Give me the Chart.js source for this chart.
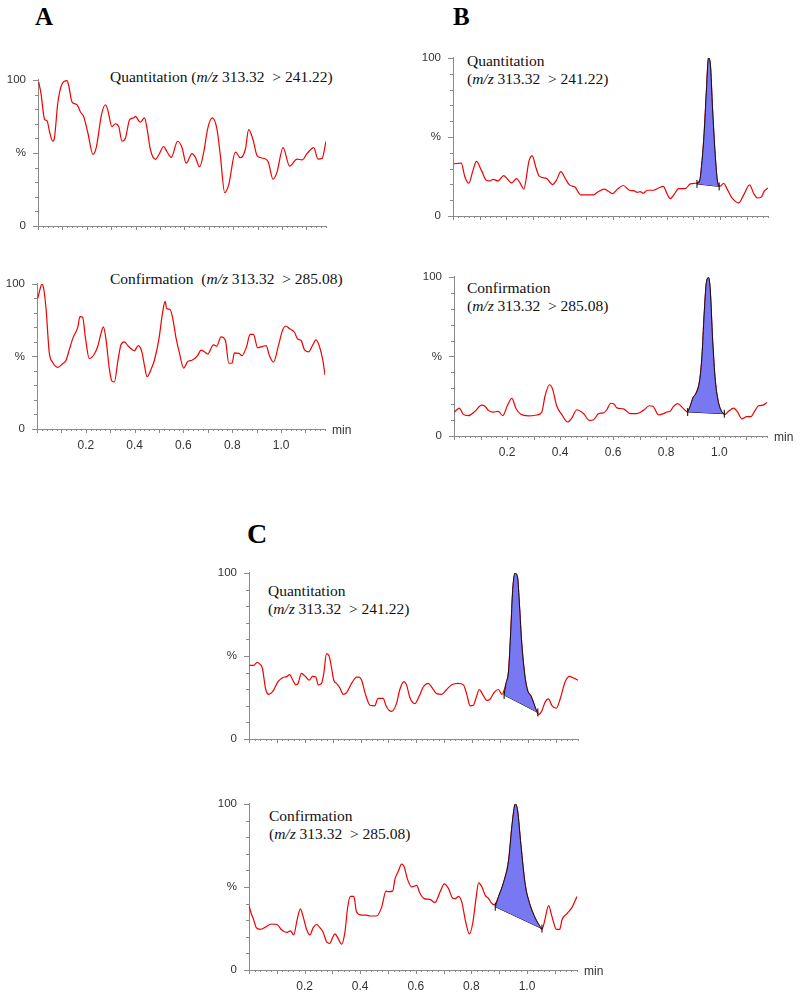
<!DOCTYPE html>
<html>
<head>
<meta charset="utf-8">
<script src="https://cdn.jsdelivr.net/npm/chart.js@4.4.1/dist/chart.umd.min.js"></script>
<style>
    body { margin: 0; background: #fff; width: 800px; height: 996px; position: relative; overflow: hidden; }
    canvas { position: absolute; }
    .letter { position: absolute; font-family: "Liberation Serif", "Times New Roman", serif; font-weight: bold; line-height: 1; color: #000; }
    .note { position: absolute; font-family: "Liberation Serif", "Times New Roman", serif; font-size: 15.5px; line-height: 18px; color: #111; white-space: pre; }
</style>
</head>
<body>
<div class="letter" style="left:35px;top:4px;font-size:25px">A</div>
<div class="letter" style="left:453px;top:4px;font-size:25px">B</div>
<div class="letter" style="left:247px;top:520px;font-size:28px">C</div>

<div class="note" style="left:110px;top:68px">Quantitation (<i>m/z</i> 313.32  &gt; 241.22)</div>
<div class="note" style="left:110px;top:270px">Confirmation  (<i>m/z</i> 313.32  &gt; 285.08)</div>
<div class="note" style="left:467px;top:52px">Quantitation<br>(<i>m/z</i> 313.32  &gt; 241.22)</div>
<div class="note" style="left:467px;top:279px">Confirmation<br>(<i>m/z</i> 313.32  &gt; 285.08)</div>
<div class="note" style="left:268px;top:582px">Quantitation<br>(<i>m/z</i> 313.32  &gt; 241.22)</div>
<div class="note" style="left:269px;top:807px">Confirmation<br>(<i>m/z</i> 313.32  &gt; 285.08)</div>

<script>
// ---- data (min / relative %) ----
// A quantitation
const timeAQ = [0.003,0.012,0.027,0.037,0.048,0.06,0.067,0.081,0.098,0.119,0.126,0.139,0.16,0.174,0.187,0.204,0.225,0.239,0.26,0.276,0.285,0.303,0.317,0.331,0.344,0.358,0.376,0.392,0.399,0.419,0.436,0.447,0.46,0.481,0.494,0.515,0.528,0.546,0.572,0.59,0.607,0.631,0.644,0.662,0.679,0.695,0.714,0.733,0.747,0.765,0.781,0.809,0.829,0.85,0.863,0.881,0.898,0.925,0.943,0.963,0.979,1.004,1.031,1.061,1.082,1.102,1.13,1.147,1.164,1.18];
const sigAQ = [98.5,91,73,72,64,58,60,84,97,99.5,96,85,83,78,75,64,49,54,76,83,80,68,70,68,58,60,73,74,75,71,74,66.5,52.7,45.6,48.4,54.4,51,47,58,53.7,43,49.5,47.3,40.5,50.5,66.5,74,66.5,48.4,22.8,28,50.5,46.7,52.7,66,59,48,46.3,44,32,36.7,53.7,41,45.8,45.2,49.5,53.7,45.8,46.3,58];

// A confirmation
const timeAC = [0.003,0.012,0.02,0.027,0.037,0.05,0.064,0.085,0.105,0.119,0.133,0.149,0.167,0.176,0.187,0.198,0.214,0.235,0.249,0.262,0.272,0.283,0.296,0.307,0.317,0.331,0.344,0.358,0.372,0.392,0.399,0.415,0.43,0.44,0.451,0.467,0.481,0.499,0.515,0.525,0.531,0.545,0.556,0.57,0.583,0.601,0.617,0.635,0.658,0.672,0.686,0.699,0.723,0.736,0.754,0.772,0.786,0.799,0.809,0.827,0.84,0.859,0.873,0.887,0.904,0.925,0.939,0.952,0.969,0.99,1.007,1.02,1.034,1.055,1.068,1.082,1.096,1.113,1.13,1.143,1.157,1.171,1.18];
const sigAC = [90,96,100,97,83,53,46,42.5,45,47.4,55,63.5,70,77.5,77,63.5,48.5,51.7,57,65.7,70.4,61.4,42,33,32.4,46.4,58,60,57.5,54.5,54,57.5,53,44,36,41,47.4,61.4,80.7,88,83,82.4,76.4,62.4,52.8,42,46.4,47.4,50.6,54.3,53.2,51.7,58,57,63.5,61,45.3,45.3,52.4,52.1,50.6,57,65.2,65.2,56,57,57.5,50.6,46,58,68.5,71,69.3,66.7,62,61,54.5,53.2,58,61.4,57,47.4,37.3];

// B quantitation
const timeBQ = [0.003,0.031,0.044,0.059,0.075,0.088,0.106,0.125,0.138,0.15,0.169,0.19,0.203,0.219,0.238,0.25,0.265,0.285,0.297,0.31,0.323,0.35,0.373,0.388,0.404,0.419,0.436,0.457,0.478,0.526,0.544,0.566,0.582,0.597,0.616,0.638,0.661,0.676,0.691,0.701,0.713,0.728,0.751,0.77,0.788,0.801,0.814,0.829,0.845,0.87,0.889,0.908,0.924,0.932,0.941,0.949,0.957,0.964,0.972,0.982,0.991,1.001,1.014,1.026,1.045,1.07,1.089,1.111,1.126,1.141,1.154,1.166,1.18];
const sigBQ = [33,33.5,25,20.7,29,34.6,29,22.6,22.2,23.2,22.2,25.6,23.6,20.9,23.6,21.3,17,35,38,31,25.2,23.8,19.9,22.8,28.1,24.2,19.7,18.3,13.4,13.4,15.4,17,15.7,14.2,17,19.3,16.3,16,15,15.4,14.4,16.3,16.3,17.7,18.7,14.4,11,13.8,17.3,17.3,20.3,20.7,22.2,33,52.8,78.3,100,96,68.5,39,21.3,18.9,20.7,17.3,11.4,8.3,13.4,19.7,14.4,11.4,11.8,15.7,17.7];
const baseTimeBQ = [0.914, 0.997];
const baseSigBQ = [20.3, 18.7];

// B confirmation
const timeBC = [0.001,0.02,0.035,0.054,0.079,0.104,0.117,0.13,0.148,0.167,0.184,0.201,0.218,0.234,0.252,0.28,0.312,0.331,0.343,0.36,0.372,0.387,0.406,0.428,0.444,0.463,0.488,0.511,0.526,0.545,0.563,0.576,0.591,0.604,0.614,0.639,0.664,0.689,0.714,0.737,0.75,0.771,0.79,0.803,0.815,0.825,0.843,0.863,0.881,0.891,0.901,0.913,0.926,0.935,0.943,0.951,0.96,0.966,0.975,0.985,0.997,1.01,1.022,1.035,1.054,1.069,1.085,1.104,1.119,1.135,1.148,1.165,1.18];
const sigBC = [15,17.5,13.6,12.8,15.5,19.4,18.7,16.1,15,15.5,12.8,19,23.6,17.1,13.6,12.6,13.2,15,25,32.2,29.3,19,13.6,8.8,11.2,16.5,14.1,9.8,10.2,14.1,14.5,16.5,20.6,20,17.7,17.1,14.1,14.1,16.1,19,18.7,13.2,14.1,15.1,15.5,18,20.4,17.5,15.1,19,24,27,34.8,50.5,76,95.7,99.6,91.7,60.3,34.8,21,15.1,13.6,15.5,17.5,15.1,10.8,12.2,12.2,16.1,19,19.4,21];
const baseTimeBC = [0.881, 1.019];
const baseSigBC = [15.1, 14];

// C quantitation
const timeCQ = [0.002,0.017,0.029,0.038,0.048,0.06,0.071,0.086,0.104,0.12,0.137,0.146,0.156,0.168,0.176,0.188,0.204,0.216,0.228,0.24,0.248,0.26,0.268,0.278,0.287,0.296,0.304,0.314,0.326,0.338,0.35,0.368,0.386,0.395,0.404,0.416,0.434,0.451,0.463,0.481,0.493,0.511,0.529,0.541,0.556,0.565,0.577,0.595,0.611,0.625,0.643,0.655,0.673,0.691,0.709,0.727,0.751,0.769,0.781,0.793,0.805,0.814,0.826,0.838,0.853,0.865,0.88,0.895,0.907,0.922,0.931,0.939,0.946,0.954,0.963,0.97,0.978,0.99,1.0,1.011,1.02,1.03,1.038,1.05,1.062,1.074,1.086,1.102,1.116,1.134,1.15,1.164,1.18];
const sigCQ = [44.3,44.3,46.1,45.2,42.6,29.8,26.9,28.8,34.5,36.9,37.7,38.8,35.8,32.6,33.5,39.5,37.3,35.4,37.7,37.3,32.6,33.5,39.2,51.4,50.1,42.9,35.4,33.5,30.7,26.9,27.9,33.5,37.3,37.3,35.4,27.9,20.3,20,24.5,24.5,19.4,16.6,21.3,29.8,34.5,32.6,25,21.3,26,31.3,33.5,31.3,27.3,26.9,29.8,32.6,33.5,32.6,26.9,20,20.3,24.5,29.8,26.9,23.2,24.1,28.2,29.8,26.9,33.5,41,65.5,90,99.8,97.5,80.6,58,37.3,28.8,26,22.2,17.5,14.7,16.9,22.2,24.1,20.3,18.5,24.1,34.5,37.7,36.7,35.4];
const baseTimeCQ = [0.915, 1.036];
const baseSigCQ = [26.5, 16];

// C confirmation
const timeCC = [0,0.008,0.017,0.026,0.041,0.056,0.081,0.101,0.117,0.135,0.149,0.161,0.173,0.185,0.195,0.207,0.219,0.231,0.243,0.255,0.267,0.279,0.291,0.299,0.309,0.321,0.333,0.345,0.355,0.365,0.377,0.387,0.405,0.423,0.435,0.459,0.477,0.493,0.501,0.517,0.525,0.537,0.549,0.558,0.57,0.585,0.603,0.615,0.63,0.651,0.669,0.688,0.703,0.718,0.732,0.742,0.754,0.766,0.778,0.793,0.805,0.817,0.826,0.838,0.85,0.862,0.871,0.883,0.898,0.916,0.934,0.946,0.958,0.966,0.978,0.994,1.012,1.03,1.042,1.054,1.063,1.078,1.09,1.106,1.118,1.126,1.144,1.162,1.18];
const sigCC = [38.7,34,30.2,25.5,24.5,25.5,27.7,27.4,24.2,22.6,23.6,21.1,30.2,36.8,32,24.5,21.1,25.5,27.4,25.5,22.6,17,16,18.9,21.7,18.9,15.5,22.6,37.7,44.3,44.3,34.9,33,33,32.5,32.5,37.7,47.5,47.2,47.5,54.7,59.4,63.8,62.3,54.7,50,50.9,46.2,43,42.5,40.6,47.2,51.9,49,43.4,43,44.3,40.6,30.2,21.7,28.3,43.4,52.5,50,44.9,43,40.6,39.2,44.3,52.8,66,86.8,100,96.2,75.5,51,38.7,31.1,27.4,24.5,29.2,38.7,32.1,24.5,24.5,30.2,34,37.7,44.3];
const baseTimeCC = [0.886, 1.054];
const baseSigCC = [38.1, 24.9];

const xTickLabels = [0.2, 0.4, 0.6, 0.8, 1.0];
const yTickLabels = {0: "0", 50: "%", 100: "100"};

// ---- layout of the panels (plot box in page px) ----
const panels = [
    {t: timeAQ, s: sigAQ, box: [38, 69, 326, 226], labels: false},
    {t: timeAC, s: sigAC, box: [37, 273, 325, 429], labels: true},
    {t: timeBQ, s: sigBQ, bt: baseTimeBQ, bs: baseSigBQ, box: [453, 47, 768, 216], labels: false},
    {t: timeBC, s: sigBC, bt: baseTimeBC, bs: baseSigBC, box: [454, 266, 767, 436], labels: true},
    {t: timeCQ, s: sigCQ, bt: baseTimeCQ, bs: baseSigCQ, box: [249, 562, 578, 739], labels: false},
    {t: timeCC, s: sigCC, bt: baseTimeCC, bs: baseSigCC, box: [249, 793, 577, 970], labels: true},
];

const PAD_L = 36, PAD_T = 8, PAD_R = 30, PAD_B = 26;

// small ticks + "min" label, drawn from the chart's own scales
const tickMarks = {
    id: "tickMarks",
    afterDraw(chart, args, opts) {
        const ctx = chart.ctx;
        const xs = chart.scales.x, ys = chart.scales.y;
        ctx.save();
        ctx.strokeStyle = "#8a8a8a";
        ctx.lineWidth = 1;
        ctx.beginPath();
        xs.ticks.forEach(tk => {
            const px = Math.round(xs.getPixelForValue(tk.value)) + 0.5;
            const major = Math.abs(tk.value * 10 - Math.round(tk.value * 10)) < 1e-6;
            ctx.moveTo(px, xs.top);
            ctx.lineTo(px, xs.top + (major ? 4 : 2));
        });
        ys.ticks.forEach(tk => {
            const py = Math.round(ys.getPixelForValue(tk.value)) + 0.5;
            const major = tk.value % 50 === 0;
            ctx.moveTo(ys.right, py);
            ctx.lineTo(ys.right - (major ? 5 : 3), py);
        });
        ctx.stroke();
        if (opts.showMin) {
            ctx.fillStyle = "#333";
            ctx.font = "12px 'Liberation Sans', Arial, sans-serif";
            ctx.textBaseline = "middle";
            ctx.fillText("min", chart.chartArea.right + 7, chart.chartArea.bottom + 2);
        }
        ctx.restore();
    }
};

function peakPoints(times, sig, bt, bs) {
    const pts = [{x: bt[0], y: bs[0]}];
    times.forEach((t, i) => {
        if (t > bt[0] && t < bt[1]) pts.push({x: t, y: sig[i]});
    });
    pts.push({x: bt[1], y: bs[1]});
    return pts;
}

panels.forEach((p, k) => {
    const [l, t, r, b] = p.box;
    const cv = document.createElement("canvas");
    cv.width = (r - l) + PAD_L + PAD_R;
    cv.height = (b - t) + PAD_T + PAD_B;
    cv.style.left = (l - PAD_L) + "px";
    cv.style.top = (t - PAD_T) + "px";
    document.body.appendChild(cv);

    const trace = p.t.map((x, i) => ({x: x, y: p.s[i]}));
    const datasets = [];
    if (p.bt) {
        datasets.push({
            data: peakPoints(p.t, p.s, p.bt, p.bs),
            borderColor: "#111",
            borderWidth: 1,
            backgroundColor: "#7878f2",
            fill: "shape",
            pointRadius: 0,
            cubicInterpolationMode: "monotone",
        });
        datasets.push({
            data: p.bt.map((x, i) => ({x: x, y: p.bs[i]})),
            borderColor: "#000",
            borderWidth: 1,
            fill: false,
            pointStyle: "line",
            rotation: 90,
            pointRadius: 4,
            pointBorderColor: "#000",
            pointBorderWidth: 1,
        });
    }
    datasets.push({
        data: trace,
        borderColor: "#f00000",
        borderWidth: 1.2,
        fill: false,
        pointRadius: 0,
        cubicInterpolationMode: "monotone",
    });

    new Chart(cv.getContext("2d"), {
        type: "line",
        data: {datasets: datasets},
        options: {
            responsive: false,
            animation: false,
            events: [],
            layout: {padding: {left: 0, top: PAD_T, right: PAD_R, bottom: 0}},
            plugins: {
                legend: {display: false},
                tooltip: {enabled: false},
                tickMarks: {showMin: p.labels},
            },
            scales: {
                x: {
                    type: "linear",
                    min: 0,
                    max: 1.18,
                    grid: {display: false, drawTicks: false},
                    border: {display: true, color: "#8a8a8a", width: 1},
                    ticks: {
                        stepSize: 0.02,
                        maxTicksLimit: 200,
                        autoSkip: false,
                        maxRotation: 0,
                        padding: 9,
                        color: "#333",
                        font: {family: "'Liberation Sans', Arial, sans-serif", size: 12},
                        callback: v => {
                            if (!p.labels) return "";
                            const hit = xTickLabels.find(q => Math.abs(q - v) < 1e-6);
                            return hit !== undefined ? hit.toFixed(1) : "";
                        },
                    },
                    afterFit: s => { s.height = PAD_B; },
                },
                y: {
                    min: 0,
                    max: 100,
                    grid: {display: false, drawTicks: false},
                    border: {display: true, color: "#8a8a8a", width: 1},
                    ticks: {
                        stepSize: 10,
                        autoSkip: false,
                        padding: 12,
                        color: "#333",
                        font: {family: "'Liberation Sans', Arial, sans-serif", size: 11.5},
                        callback: v => (yTickLabels[v] !== undefined ? yTickLabels[v] : ""),
                    },
                    afterFit: s => { s.width = PAD_L; },
                },
            },
        },
        plugins: [tickMarks],
    });
});
</script>
</body>
</html>
